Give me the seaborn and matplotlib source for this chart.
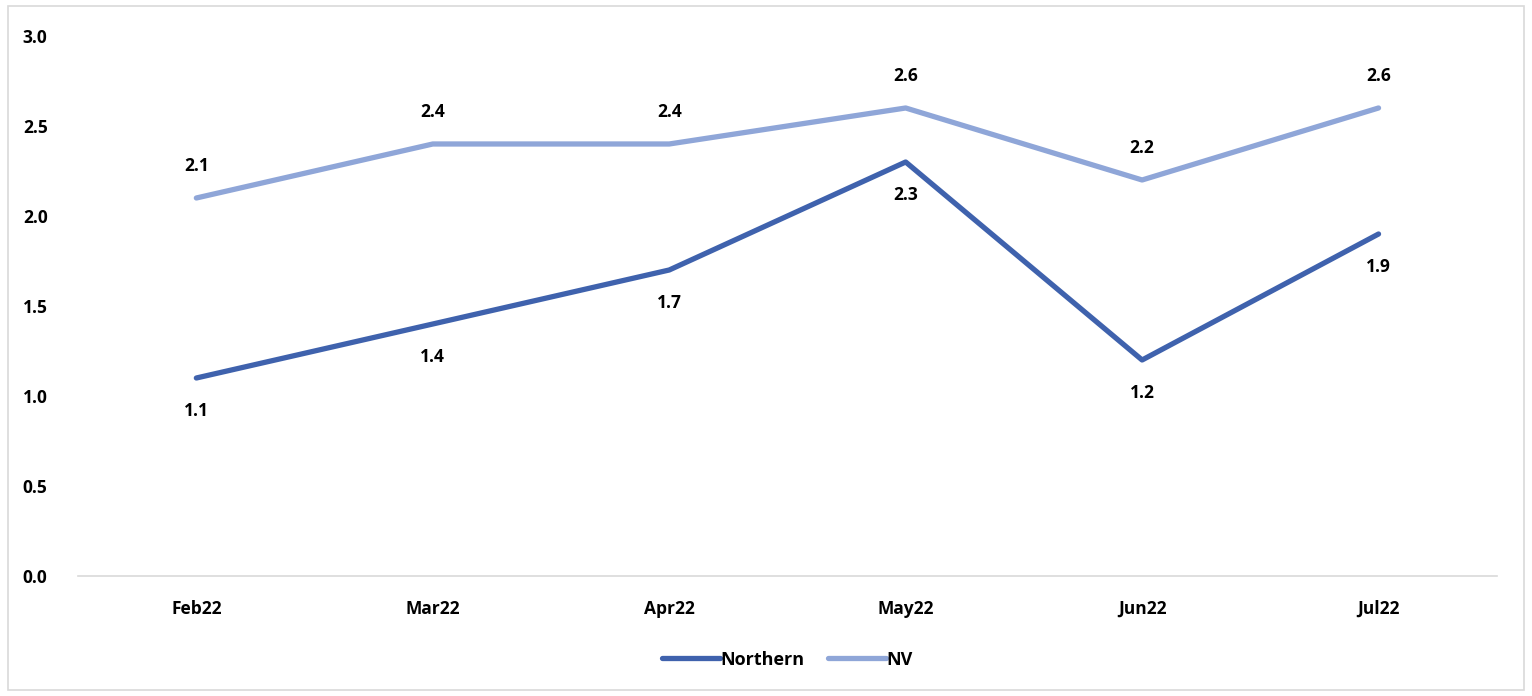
import pandas as pd
import seaborn as sns
import matplotlib.pyplot as plt
from matplotlib.patches import Rectangle

# data
months = ["Feb22", "Mar22", "Apr22", "May22", "Jun22", "Jul22"]
northern = [1.1, 1.4, 1.7, 2.3, 1.2, 1.9]
nv = [2.1, 2.4, 2.4, 2.6, 2.2, 2.6]

df = pd.DataFrame({
    "month": months * 2,
    "value": northern + nv,
    "series": ["Northern"] * len(months) + ["NV"] * len(months),
})

sns.set_theme(style="white")
plt.rcParams["font.family"] = ["Open Sans", "DejaVu Sans"]
plt.rcParams["font.weight"] = "bold"
plt.rcParams["text.color"] = "black"
plt.rcParams["xtick.color"] = "black"
plt.rcParams["ytick.color"] = "black"
plt.rcParams["lines.solid_capstyle"] = "round"

colors = {"Northern": "#3F62AD", "NV": "#8FA6D8"}
fs = 12.5

fig = plt.figure(figsize=(15.32, 6.96), dpi=100)
ax = fig.add_axes([0.051, 0.1724, 0.926, 0.7759])

sns.lineplot(data=df, x="month", y="value", hue="series", palette=colors,
             linewidth=3.8, ax=ax, sort=False)

# data labels
for i, v in enumerate(northern):
    ax.annotate(f"{v:.1f}", (i, v), xytext=(0, -24), textcoords="offset points",
                ha="center", va="center", fontsize=fs, fontweight="bold", color="black")
for i, v in enumerate(nv):
    ax.annotate(f"{v:.1f}", (i, v), xytext=(0, 23), textcoords="offset points",
                ha="center", va="center", fontsize=fs, fontweight="bold", color="black")

ax.set_xlim(-0.5, len(months) - 0.5)
ax.set_ylim(0, 3.0)
ax.set_yticks([0, 0.5, 1.0, 1.5, 2.0, 2.5, 3.0])
ax.set_yticklabels([f"{t:.1f}" for t in ax.get_yticks()])
ax.set_xlabel("")
ax.set_ylabel("")
ax.tick_params(axis="both", length=0, labelsize=fs, labelcolor="black")
ax.tick_params(axis="x", pad=17)
ax.tick_params(axis="y", pad=22)
for lbl in ax.get_xticklabels() + ax.get_yticklabels():
    lbl.set_fontweight("bold")

for s in ["top", "right", "left"]:
    ax.spines[s].set_visible(False)
ax.spines["bottom"].set_color("#D9D9D9")
ax.spines["bottom"].set_linewidth(1.2)

handles, labels = ax.get_legend_handles_labels()
leg = ax.legend(handles, labels, loc="center", bbox_to_anchor=(0.5, -0.155),
                ncol=2, frameon=False, handlelength=3.2,
                handletextpad=0.05, columnspacing=1.3,
                prop={"weight": "bold", "size": fs + 0.5})
for t in leg.get_texts():
    t.set_color("black")

# light frame around the whole chart
fig.patches.append(Rectangle((0.005, 0.008), 0.99, 0.984, transform=fig.transFigure,
                             fill=False, edgecolor="#D9D9D9", linewidth=1.2))

fig.savefig("out.png", dpi=100)
